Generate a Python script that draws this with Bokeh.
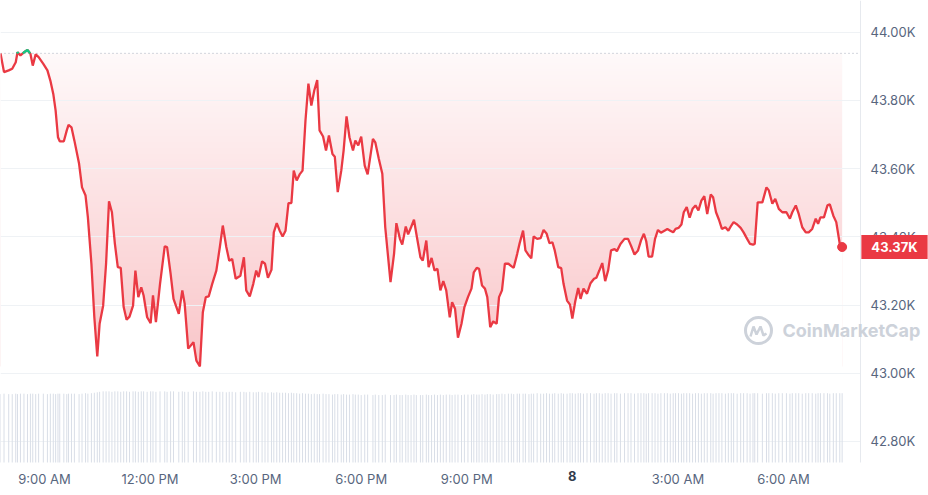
import numpy as np
from bokeh.plotting import figure
from bokeh.models import Range1d, FixedTicker, Label, Grid, LinearAxis
from bokeh.embed import file_html
from bokeh.resources import INLINE
from bokeh.core.properties import value

# ---------------- data (minutes after midnight of day 7) ----------------
times = [
    465, 471, 479, 485, 491, 494, 499, 505, 511, 516,
    520, 525, 530, 538, 545, 550, 555, 559, 563, 566,
    573, 578, 581, 586, 591, 599, 604, 610, 614, 620,
    625, 630, 634, 640, 645, 650, 655, 660, 665, 670,
    675, 680, 685, 691, 695, 700, 705, 709, 715, 721,
    725, 730, 737, 745, 749, 755, 760, 769, 775, 779,
    785, 794, 799, 805, 810, 815, 820, 826, 833, 839,
    844, 850, 855, 860, 866, 874, 880, 884, 890, 896,
    901, 905, 911, 916, 921, 927, 931, 936, 941, 946,
    951, 956, 961, 965, 970, 975, 980, 985, 990, 995,
    1000, 1005, 1009, 1015, 1020, 1025, 1031, 1035, 1040, 1046,
    1050, 1055, 1060, 1066, 1070, 1075, 1080, 1086, 1091, 1100,
    1104, 1110, 1116, 1121, 1130, 1136, 1140, 1146, 1150, 1156,
    1160, 1165, 1170, 1174, 1181, 1185, 1191, 1195, 1200, 1205,
    1210, 1215, 1220, 1225, 1231, 1235, 1240, 1245, 1251, 1256,
    1262, 1268, 1272, 1277, 1281, 1286, 1291, 1295, 1300, 1305,
    1311, 1315, 1320, 1325, 1331, 1336, 1340, 1346, 1350, 1356,
    1360, 1366, 1370, 1374, 1380, 1386, 1391, 1396, 1401, 1406,
    1410, 1416, 1421, 1425, 1431, 1436, 1440, 1445, 1450, 1454,
    1459, 1465, 1471, 1477, 1481, 1486, 1491, 1496, 1501, 1506,
    1512, 1516, 1522, 1529, 1535, 1540, 1546, 1552, 1557, 1562,
    1566, 1570, 1576, 1581, 1586, 1591, 1597, 1602, 1607, 1612,
    1616, 1621, 1626, 1630, 1635, 1640, 1645, 1650, 1655, 1660,
    1665, 1670, 1676, 1680, 1685, 1690, 1695, 1701, 1706, 1711,
    1715, 1721, 1727, 1732, 1738, 1743, 1748, 1751, 1756, 1764,
    1771, 1775, 1781, 1786, 1792, 1798, 1805, 1811, 1815, 1821,
    1826, 1832, 1838, 1843, 1849, 1855, 1859, 1863, 1869, 1875,
    1879, 1885, 1890, 1896, 1900,
]

prices = [
    43938, 43883, 43888, 43893, 43912, 43941, 43932, 43941, 43948, 43937,
    43902, 43935, 43927, 43907, 43888, 43858, 43819, 43770, 43692, 43680,
    43680, 43712, 43728, 43721, 43682, 43614, 43545, 43521, 43457, 43321,
    43164, 43049, 43145, 43198, 43321, 43504, 43472, 43380, 43311, 43309,
    43194, 43157, 43166, 43198, 43301, 43223, 43252, 43228, 43164, 43147,
    43228, 43150, 43262, 43372, 43370, 43292, 43218, 43174, 43243, 43204,
    43072, 43091, 43037, 43020, 43179, 43223, 43225, 43262, 43301, 43370,
    43433, 43370, 43330, 43335, 43277, 43286, 43340, 43243, 43225, 43262,
    43301, 43282, 43328, 43321, 43280, 43303, 43413, 43440, 43418, 43401,
    43418, 43499, 43499, 43594, 43565, 43583, 43594, 43741, 43849, 43785,
    43829, 43860, 43712, 43694, 43653, 43697, 43643, 43635, 43531, 43594,
    43653, 43753, 43692, 43653, 43682, 43668, 43694, 43609, 43583, 43687,
    43677, 43629, 43585, 43428, 43267, 43350, 43440, 43394, 43377, 43430,
    43407, 43428, 43450, 43409, 43340, 43330, 43389, 43311, 43338, 43301,
    43306, 43243, 43270, 43243, 43164, 43208, 43189, 43104, 43145, 43194,
    43223, 43248, 43296, 43309, 43306, 43257, 43248, 43223, 43135, 43152,
    43145, 43223, 43243, 43321, 43321, 43314, 43309, 43350, 43380, 43418,
    43360, 43345, 43337, 43401, 43394, 43396, 43420, 43410, 43381, 43384,
    43360, 43311, 43308, 43262, 43213, 43201, 43160, 43211, 43250, 43218,
    43248, 43233, 43264, 43277, 43280, 43301, 43323, 43270, 43301, 43360,
    43364, 43358, 43379, 43394, 43394, 43374, 43348, 43360, 43389, 43409,
    43387, 43342, 43342, 43394, 43420, 43412, 43418, 43423, 43418, 43413,
    43423, 43426, 43436, 43472, 43487, 43456, 43482, 43492, 43477, 43506,
    43519, 43467, 43524, 43516, 43472, 43450, 43423, 43428, 43418, 43433,
    43443, 43436, 43426, 43413, 43394, 43379, 43377, 43379, 43501, 43501,
    43545, 43536, 43497, 43511, 43482, 43472, 43472, 43453, 43472, 43492,
    43467, 43428, 43413, 43413, 43423, 43453, 43438, 43457, 43457, 43492,
    43495, 43462, 43443, 43379, 43370,
]

# 24h volume (billions USD)
volumes = [
    14.8, 14.9, 14.8, 14.8, 14.9, 14.8, 14.9, 14.9, 14.8, 14.9,
    14.9, 14.8, 14.9, 14.9, 14.8, 14.9, 14.9, 14.8, 14.9, 14.9,
    14.9, 14.8, 14.9, 14.9, 14.9, 14.8, 14.9, 15.0, 14.9, 15.0,
    15.1, 15.2, 15.3, 15.4, 15.4, 15.4, 15.3, 15.4, 15.4, 15.3,
    15.4, 15.4, 15.3, 15.4, 15.4, 15.3, 15.4, 15.4, 15.3, 15.4,
    15.4, 15.3, 15.4, 15.4, 15.3, 15.4, 15.4, 15.3, 15.4, 15.3,
    15.3, 15.4, 15.3, 15.3, 15.4, 15.3, 15.3, 15.4, 15.3, 15.3,
    15.3, 15.2, 15.3, 15.3, 15.2, 15.3, 15.3, 15.2, 15.3, 15.2,
    15.2, 15.3, 15.2, 15.2, 15.1, 15.2, 15.1, 15.2, 15.1, 15.1,
    15.1, 15.0, 15.1, 15.0, 15.0, 14.9, 15.0, 14.9, 14.9, 14.8,
    14.9, 14.8, 14.8, 14.9, 14.8, 14.8, 14.7, 14.8, 14.8, 14.7,
    14.8, 14.7, 14.7, 14.8, 14.7, 14.7, 14.6, 14.7, 14.7, 14.6,
    14.7, 14.6, 14.6, 14.7, 14.6, 14.6, 14.7, 14.6, 14.6, 14.7,
    14.6, 14.6, 14.7, 14.6, 14.6, 14.6, 14.7, 14.6, 14.6, 14.7,
    14.6, 14.7, 14.6, 14.7, 14.7, 14.6, 14.7, 14.7, 14.6, 14.7,
    14.7, 14.7, 14.8, 14.7, 14.7, 14.8, 14.7, 14.8, 14.8, 14.7,
    14.8, 14.8, 14.9, 14.8, 14.9, 14.9, 14.8, 14.9, 14.9, 14.9,
    14.9, 14.8, 14.9, 14.9, 15.0, 14.9, 14.9, 15.0, 14.9, 14.9,
    15.0, 14.9, 15.0, 14.9, 14.9, 15.0, 15.0, 14.9, 15.0, 15.0,
    14.9, 15.0, 15.0, 14.9, 15.0, 15.0, 14.9, 15.0, 15.0, 14.9,
    15.0, 15.0, 14.9, 15.0, 15.0, 15.0, 14.9, 15.0, 15.0, 15.0,
    14.9, 15.0, 15.0, 15.0, 14.9, 15.0, 15.0, 15.0, 14.9, 15.0,
    15.0, 15.0, 14.9, 15.0, 15.0, 15.0, 14.9, 15.0, 15.0, 14.9,
    15.0, 15.0, 15.0, 14.9, 15.0, 15.0, 15.0, 14.9, 15.0, 15.0,
    15.0, 14.9, 15.0, 15.0, 15.0, 14.9, 15.0, 15.0, 15.0, 14.9,
    15.0, 15.0, 15.0, 14.9, 15.0, 15.0, 15.0, 14.9, 15.0, 15.0,
    15.0, 14.9, 15.0, 15.0, 15.0, 14.9, 15.0, 15.0, 15.0, 15.0,
    14.9, 15.0, 15.0, 15.0, 15.0,
]

x_ticks = [540, 720, 900, 1080, 1260, 1440, 1620, 1800]
x_tick_labels = ["9:00 AM", "12:00 PM", "3:00 PM", "6:00 PM", "9:00 PM", "8", "3:00 AM", "6:00 AM"]
day_tick = 1440          # the tick that starts a new day (shown darker)
y_ticks = [42800, 43000, 43200, 43400, 43600, 43800, 44000]
y_tick_labels = ["42.80K", "43.00K", "43.20K", "43.40K", "43.60K", "43.80K", "44.00K"]
last_price_label = "43.37K"
watermark_text = "CoinMarketCap"

# ---------------- style ----------------
RED = "#ea3943"
GREEN = "#16c784"
TEXT = "#58667e"
GRID = "#eff2f5"
WM = "#cdd2da"

n = min(len(times), len(prices), len(volumes))
t = np.array(times[:n], dtype=float)
pr = np.array(prices[:n], dtype=float)
vol = np.array(volumes[:n], dtype=float)
base = pr[0]

FRAME_W, FRAME_H = 928, 495
PLOT_W, PLOT_H = 860, 462   # plotted area inside the frame; axes sit at its edges
MPP = 60 / 35.19            # minutes per pixel
DPP = 1000 / 341.0          # dollars per pixel
X0 = 465
X1 = X0 + FRAME_W * MPP
XA = X0 + PLOT_W * MPP      # where the price axis sits
Y1 = 44000 + 31.7 * DPP
Y0 = Y1 - FRAME_H * DPP
YB = Y1 - PLOT_H * DPP      # where the time axis sits
VOL_TOP = 100
VOL_BOTTOM = -VOL_TOP * (FRAME_H - PLOT_H) / PLOT_H   # so that volume 0 sits on the time axis

p = figure(frame_width=FRAME_W, frame_height=FRAME_H,
           x_range=Range1d(X0, X1), y_range=Range1d(Y0, Y1),
           output_backend="svg", toolbar_location=None, y_axis_location="right",
           min_border_left=0, min_border_top=0, min_border_right=0, min_border_bottom=0,
           outline_line_color=None, background_fill_color="white", border_fill_color="white")
p.extra_y_ranges = {"vol": Range1d(VOL_BOTTOM, VOL_TOP)}

def style_axis(ax, color=TEXT, font_style="normal"):
    ax.major_tick_line_color = None
    ax.minor_tick_line_color = None
    ax.major_tick_out = 0
    ax.major_tick_in = 0
    ax.minor_tick_out = 0
    ax.minor_tick_in = 0
    ax.major_label_text_font = "Inter"
    ax.major_label_text_font_size = "13px"
    ax.major_label_text_color = color
    ax.major_label_text_font_style = font_style

# price axis on the right, drawn at the edge of the plotted area
yax = p.yaxis[0]
yax.ticker = FixedTicker(ticks=y_ticks)
yax.major_label_overrides = dict(zip(y_ticks, y_tick_labels))
yax.fixed_location = XA
yax.bounds = (YB, Y1)
style_axis(yax)
yax.axis_line_color = "#e6e9ee"
yax.major_label_standoff = 10

# time axis
xax = p.xaxis[0]
xax.ticker = FixedTicker(ticks=[tk for tk in x_ticks if tk != day_tick])
xax.major_label_overrides = dict(zip(x_ticks, x_tick_labels))
xax.fixed_location = YB
style_axis(xax)
xax.axis_line_color = None
xax.major_label_standoff = 8

# day-change tick, darker
dax = LinearAxis(ticker=FixedTicker(ticks=[day_tick]), fixed_location=YB,
                 major_label_overrides=dict(zip(x_ticks, x_tick_labels)))
style_axis(dax, color="#323b4b", font_style="bold")
dax.axis_line_color = None
dax.major_label_standoff = 8
p.add_layout(dax, "below")

p.xgrid.visible = False
yg = p.ygrid[0]
yg.ticker = FixedTicker(ticks=y_ticks)
yg.grid_line_color = GRID
use_cross = "cross_bounds" in Grid.properties()
if use_cross:
    yg.cross_bounds = (X0, XA)
else:
    yg.visible = False

# gradient fill between price line and opening price
pmin = pr.min()
rows = 256
a = np.linspace(0.29, 0.03, rows)
img = np.empty((rows, 1), dtype=np.uint32)
v = img.view(dtype=np.uint8).reshape((rows, 1, 4))
v[:, 0, 0] = np.round(255 - (255 - 234) * a).astype(np.uint8)
v[:, 0, 1] = np.round(255 - (255 - 57) * a).astype(np.uint8)
v[:, 0, 2] = np.round(255 - (255 - 67) * a).astype(np.uint8)
v[:, 0, 3] = 255
p.image_rgba(image=[img], x=t[0], y=pmin, dw=t[-1] - t[0], dh=base - pmin, level="image")
p.varea(x=t, y1=YB, y2=pr, fill_color="white", level="image")

if not use_cross:
    p.segment(x0=X0, y0=y_ticks, x1=XA, y1=y_ticks, line_color=GRID, line_width=1, level="underlay")

# green fill above opening price
p.varea(x=t, y1=base, y2=np.maximum(pr, base), fill_color=GREEN, fill_alpha=0.12)

# volume bars
p.segment(x0=t, y0=0, x1=t, y1=vol, y_range_name="vol", line_color="#d9dee7", line_width=1)

# opening price dotted line (ends at the price axis)
p.segment(x0=[X0], y0=[base], x1=[XA], y1=[base], line_color="#a6adbb",
          line_dash="1 3", line_width=1)

# price line
p.line(t, pr, line_color=RED, line_width=2.3)

def above_segments(tt, vv, b):
    segs, cx, cy = [], [], []
    for i in range(len(tt)):
        up = vv[i] > b
        if i > 0 and up != (vv[i - 1] > b):
            f = (b - vv[i - 1]) / (vv[i] - vv[i - 1])
            cx.append(tt[i - 1] + f * (tt[i] - tt[i - 1])); cy.append(b)
            if not up:
                segs.append((cx, cy)); cx, cy = [], []
        if up:
            cx.append(tt[i]); cy.append(vv[i])
    if cx:
        segs.append((cx, cy))
    return [s for s in segs if len(s[0]) > 1]

segs = above_segments(t, pr, base)
if segs:
    p.multi_line([s[0] for s in segs], [s[1] for s in segs], line_color=GREEN, line_width=2.3)

# last point
p.scatter([t[-1]], [pr[-1]], size=9, fill_color=RED, line_color=RED)

# last price tag (sits over the price axis)
p.add_layout(Label(x=XA, y=pr[-1], text=last_price_label, x_offset=34,
                   text_baseline="middle", text_align="center", text_color="white",
                   text_font="Inter", text_font_size="13px", text_font_style="bold",
                   background_fill_color=RED, padding=(10, 4)))

# watermark
wm_y = Y1 - 330 * DPP
p.add_layout(Label(x=X0 + 782 * MPP, y=wm_y, text=watermark_text, text_baseline="middle",
                   text_align="left", text_font="Inter", text_font_size="18px",
                   text_font_style="bold", text_color=WM))
lx = X0 + 758 * MPP
p.scatter([lx], [wm_y], marker="circle", size=26, fill_alpha=0, line_color=WM, line_width=3)
mx = [lx + d * MPP for d in (-8, -5, -2, 2, 5, 8)]
my = [wm_y - d * DPP for d in (6, -4, 4, -4, 5, 3)]
p.line(mx, my, line_color=WM, line_width=2.5)

open("out.html", "w").write(file_html(p, INLINE))
